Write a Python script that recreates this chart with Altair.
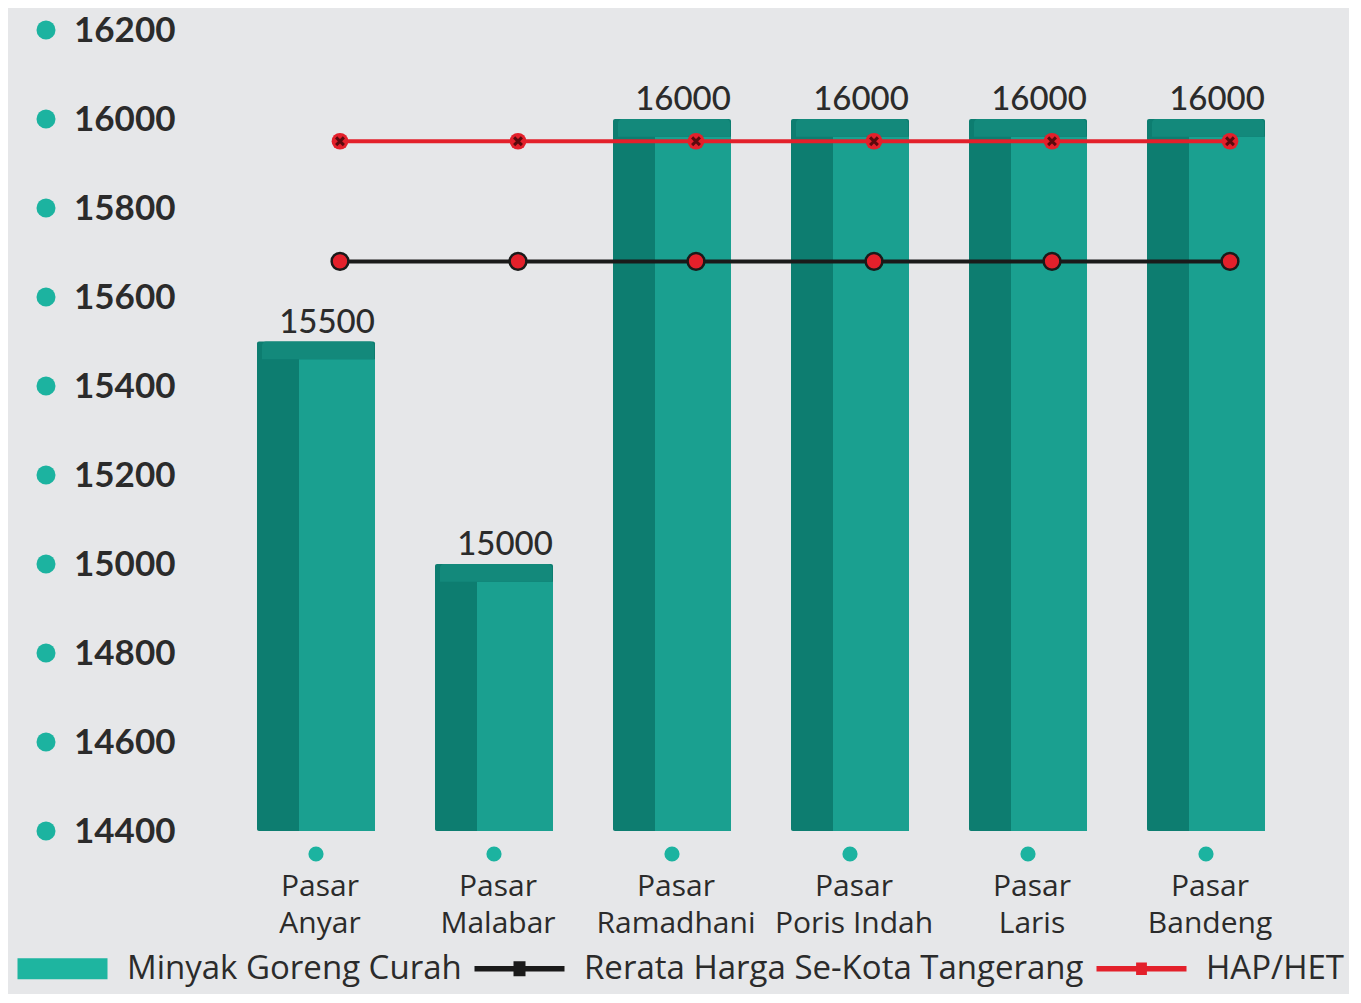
import altair as alt
import pandas as pd

# ---- data ----
markets = ["Pasar Anyar", "Pasar Malabar", "Pasar Ramadhani",
           "Pasar Poris Indah", "Pasar Laris", "Pasar Bandeng"]
minyak_curah = [15500, 15000, 16000, 16000, 16000, 16000]
rerata_kota = [15680, 15680, 15680, 15680, 15680, 15680]
hap_het = [15950, 15950, 15950, 15950, 15950, 15950]
y_ticks = [14400, 14600, 14800, 15000, 15200, 15400, 15600, 15800, 16000, 16200]
series = ["Minyak Goreng Curah", "Rerata Harga Se-Kota Tangerang", "HAP/HET"]

FONT = "Lato"
FONT2 = "Open Sans"
TEXT = "#2b2b2b"
Y_MIN, Y_MAX = 14400, 16200
TOP_DEPTH = 40  # depth of the bar top face, in value units

df = pd.DataFrame({
    "market": markets,
    "value": minyak_curah,
    "base": [Y_MIN] * len(markets),
    "rerata": rerata_kota,
    "hap": hap_het,
})
df["front_top"] = df["value"] - TOP_DEPTH
ticks_df = pd.DataFrame({"tick": y_ticks})
legend_df = pd.DataFrame({"series": series})

x_scale = alt.Scale(domain=markets, paddingInner=0.34, paddingOuter=0.17)
y_scale = alt.Scale(domain=[Y_MIN, Y_MAX], nice=False, zero=False)

x_axis = alt.Axis(labelExpr="['Pasar', substring(datum.label, 6)]",
                  labelAngle=0, labelFont=FONT2, labelFontSize=30,
                  labelColor=TEXT, labelPadding=40, labelLineHeight=37,
                  labelBaseline="top", labelOffset=4,
                  ticks=False, domain=False, grid=False, title=None)
x_enc = alt.X("market:N", scale=x_scale, sort=markets, title=None, axis=x_axis)

y_axis = alt.Axis(values=y_ticks, format="d", labelFont=FONT, labelFontSize=35,
                  labelFontWeight="bold", labelColor=TEXT, labelPadding=52,
                  ticks=False, domain=False, grid=False, title=None)


def Y(field):
    return alt.Y(field, scale=y_scale, axis=y_axis)


base = alt.Chart(df)

# legend carrier (drawn first, hidden behind a bar)
# symbol paths span x in [-3, 3] so that a 30px symbol slot draws 90px wide
legend_shapes = [
    "M-3,-0.7H3V0.7H-3Z",
    "M-3,-0.18H3V0.18H-3Z M-0.4,-0.5H0.4V0.5H-0.4Z",
    "M-3,-0.18H3V0.18H-3Z M-0.36,-0.42H0.36V0.42H-0.36Z",
]
legend_layer = alt.Chart(legend_df).mark_point(filled=True, size=200, opacity=1).encode(
    x=alt.value(454), y=alt.value(600),
    color=alt.Color("series:N", scale=alt.Scale(domain=series,
                    range=["#1eb5a0", "#1a1a1a", "#e3202b"]),
                    legend=alt.Legend(title=None, orient="none", direction="horizontal",
                                      legendX=-181, legendY=922, symbolSize=900,
                                      symbolStrokeWidth=0, labelFont=FONT2,
                                      labelFontSize=33, labelColor=TEXT,
                                      labelOffset=48, columnPadding=12,
                                      labelLimit=700, symbolOpacity=1)),
    shape=alt.Shape("series:N", scale=alt.Scale(domain=series, range=legend_shapes)),
)

# dark side (whole bar)
side = base.mark_bar(width=118, color="#0d7d70", cornerRadius=2).encode(
    x=x_enc, y=Y("value:Q"), y2="base:Q",
)
# front face
front = base.mark_bar(width=76, xOffset=21, color="#1aa090").encode(
    x=x_enc, y=Y("front_top:Q"), y2="base:Q",
)
# top face
top = base.mark_bar(width=112, xOffset=2, color="#13897b",
                    cornerRadiusTopLeft=4, cornerRadiusTopRight=4).encode(
    x=x_enc, y=Y("value:Q"), y2="front_top:Q",
)
values = base.mark_text(font=FONT, fontSize=33, fontWeight=500, color=TEXT,
                        baseline="alphabetic", dx=11, dy=-9).encode(
    x=x_enc, y=Y("value:Q"), text="value:Q",
)
under_dots = base.mark_point(filled=True, size=230, color="#1cb3a0", opacity=1).encode(
    x=x_enc, y=alt.value(824),
)

# Rerata line
rer_line = base.mark_line(color="#1a1a1a", strokeWidth=4, xOffset=24).encode(
    x=x_enc, y=Y("rerata:Q"),
)
rer_pts = base.mark_point(filled=True, size=280, color="#e3202b", stroke="#1a1a1a",
                          strokeWidth=2.5, opacity=1, xOffset=24).encode(
    x=x_enc, y=Y("rerata:Q"),
)
# HAP/HET line
hap_line = base.mark_line(color="#e3202b", strokeWidth=4, xOffset=24).encode(
    x=x_enc, y=Y("hap:Q"),
)
hap_pts = base.mark_point(filled=True, size=280, color="#e3202b", opacity=1,
                          xOffset=24).encode(
    x=x_enc, y=Y("hap:Q"),
)
hap_x = base.mark_point(shape="M-1,-1L1,1M1,-1L-1,1", size=60, color="#5a0a0e",
                        strokeWidth=3, filled=False, opacity=1, xOffset=24).encode(
    x=x_enc, y=Y("hap:Q"),
)

# y-axis dots
axis_dots = alt.Chart(ticks_df).mark_point(filled=True, size=360, color="#1cb3a0",
                                           opacity=1).encode(
    x=alt.value(-181), y=Y("tick:Q"),
)

chart = alt.layer(
    legend_layer, side, front, top, values, under_dots,
    rer_line, rer_pts, hap_line, hap_pts, hap_x,
    axis_dots,
).properties(
    width=1068, height=801, background="#e6e7e9",
    padding={"left": 28, "top": 5, "right": 5, "bottom": 8},
).configure_view(stroke=None)

chart.save("out.html", embed_options={"renderer": "svg", "actions": False})
